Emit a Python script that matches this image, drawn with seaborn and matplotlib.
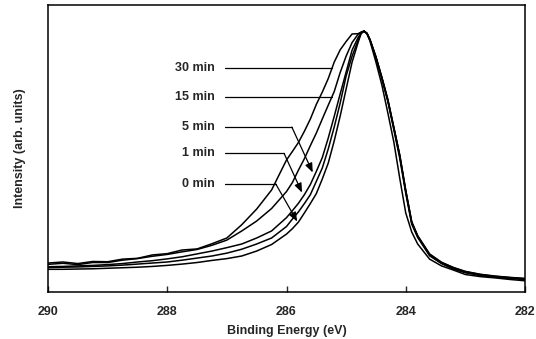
import numpy as np
import matplotlib
matplotlib.use("Agg")
import matplotlib.pyplot as plt
import seaborn as sns

# binding energy grid (eV), shared by all spectra
energy = [290.0, 289.75, 289.5, 289.25, 289.0, 288.75, 288.5, 288.25, 288.0,
          287.75, 287.5, 287.25, 287.0, 286.75, 286.5, 286.25, 286.0,
          285.9, 285.8, 285.7, 285.6, 285.5, 285.4, 285.3, 285.2, 285.1,
          285.0, 284.9, 284.8, 284.75, 284.7, 284.65, 284.6, 284.5, 284.4,
          284.3, 284.2, 284.1, 284.0, 283.9, 283.8, 283.6, 283.4, 283.2,
          283.0, 282.75, 282.5, 282.25, 282.0]

# normalised intensities
i_30min = [0.111, 0.115, 0.109, 0.117, 0.116, 0.126, 0.129, 0.142, 0.147,
           0.161, 0.165, 0.185, 0.207, 0.258, 0.318, 0.391, 0.506,
           0.539, 0.573, 0.616, 0.663, 0.719, 0.766, 0.818, 0.881, 0.928,
           0.960, 0.989, 0.990, 0.995, 1.000, 0.991, 0.967, 0.900, 0.820,
           0.736, 0.632, 0.525, 0.390, 0.270, 0.216, 0.146, 0.114, 0.094,
           0.079, 0.068, 0.061, 0.056, 0.052]
i_15min = [0.106, 0.110, 0.105, 0.113, 0.113, 0.122, 0.128, 0.137, 0.144,
           0.154, 0.163, 0.179, 0.199, 0.234, 0.272, 0.320, 0.385,
           0.420, 0.467, 0.511, 0.561, 0.609, 0.663, 0.716, 0.768, 0.841,
           0.904, 0.956, 0.988, 0.996, 1.000, 0.990, 0.965, 0.898, 0.818,
           0.733, 0.630, 0.522, 0.388, 0.267, 0.214, 0.144, 0.113, 0.093,
           0.078, 0.067, 0.060, 0.055, 0.051]
i_5min = [0.097, 0.098, 0.100, 0.102, 0.105, 0.109, 0.115, 0.120, 0.127,
          0.135, 0.146, 0.157, 0.170, 0.184, 0.207, 0.234, 0.285,
          0.312, 0.340, 0.373, 0.412, 0.462, 0.515, 0.590, 0.673, 0.759,
          0.843, 0.927, 0.975, 0.993, 1.000, 0.992, 0.968, 0.902, 0.823,
          0.738, 0.628, 0.520, 0.385, 0.265, 0.213, 0.141, 0.110, 0.089,
          0.075, 0.064, 0.058, 0.053, 0.049]
i_1min = [0.094, 0.095, 0.096, 0.098, 0.100, 0.103, 0.107, 0.111, 0.115,
          0.122, 0.130, 0.138, 0.149, 0.164, 0.184, 0.207, 0.251,
          0.280, 0.307, 0.339, 0.373, 0.424, 0.475, 0.548, 0.632, 0.724,
          0.828, 0.904, 0.964, 0.991, 1.000, 0.991, 0.966, 0.899, 0.819,
          0.730, 0.622, 0.512, 0.378, 0.260, 0.209, 0.139, 0.109, 0.088,
          0.074, 0.063, 0.057, 0.052, 0.048]
i_0min = [0.087, 0.087, 0.088, 0.089, 0.091, 0.093, 0.095, 0.098, 0.102,
          0.107, 0.113, 0.121, 0.128, 0.138, 0.157, 0.182, 0.222,
          0.243, 0.268, 0.303, 0.339, 0.377, 0.433, 0.494, 0.579, 0.674,
          0.778, 0.881, 0.956, 0.990, 1.000, 0.990, 0.962, 0.881, 0.793,
          0.686, 0.575, 0.435, 0.303, 0.230, 0.184, 0.126, 0.100, 0.084,
          0.067, 0.059, 0.054, 0.048, 0.043]

labels = ["30 min", "15 min", "5 min", "1 min", "0 min"]
spectra = [i_30min, i_15min, i_5min, i_1min, i_0min]

# label callouts: (label y, elbow energy, arrow tip energy, arrow tip intensity)
label_y = [0.860, 0.749, 0.632, 0.531, 0.414]
elbow_x = [285.24, 285.24, 285.91, 286.04, 286.18]
tip_x = [285.24, 285.24, 285.56, 285.74, 285.82]
tip_y = [0.860, 0.749, 0.458, 0.381, 0.270]

sns.set_style("ticks")
plt.rcParams["font.family"] = ["Liberation Sans", "DejaVu Sans"]
plt.rcParams["font.weight"] = "bold"

fig = plt.figure(figsize=(5.36, 3.39), dpi=100)
ax = fig.add_axes([48 / 536, 47 / 339, 477 / 536, 287 / 339])

for vals in spectra:
    sns.lineplot(x=energy, y=vals, color="black", linewidth=1.1, ax=ax)

for lab, ly, ex, tx, ty in zip(labels, label_y, elbow_x, tip_x, tip_y):
    ax.text(287.20, ly, lab, ha="right", va="center", fontsize=9,
            fontweight="bold")
    ax.plot([287.03, ex], [ly, ly], color="black", linewidth=0.9)
    ax.annotate("", xy=(tx, ty), xytext=(ex, ly),
                arrowprops=dict(arrowstyle="-|>,head_length=0.55,head_width=0.22",
                                color="black", lw=0.9, shrinkA=0, shrinkB=0))

ax.set_xlim(290, 282)
ax.set_ylim(0, 1.10)
ax.set_xticks([290, 288, 286, 284, 282])
ax.set_yticks([])
ax.tick_params(axis="x", direction="in", length=4, width=1, pad=10,
               labelsize=9)
for s in ax.spines.values():
    s.set_linewidth(1.1)
    s.set_color("black")

ax.set_xlabel("Binding Energy (eV)", fontsize=9, fontweight="bold", labelpad=5)
ax.set_ylabel("Intensity (arb. units)", fontsize=9, fontweight="bold", labelpad=16)

fig.savefig("out.png", dpi=100)
